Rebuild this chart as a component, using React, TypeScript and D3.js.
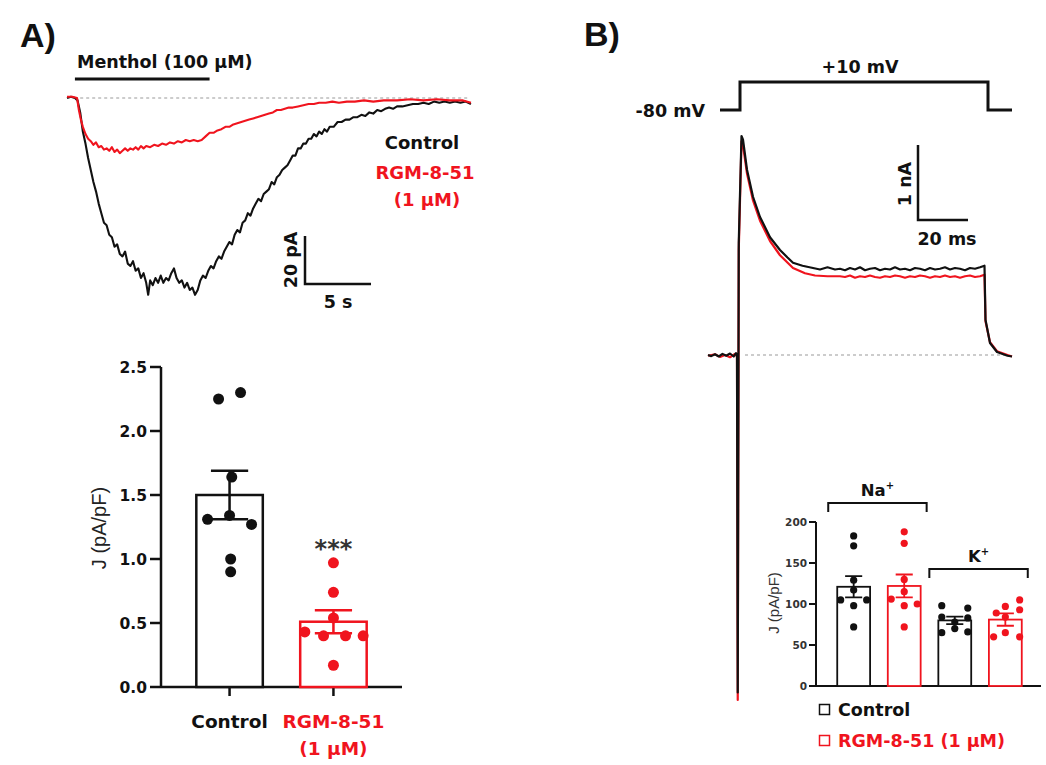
import React, { useEffect, useRef } from "react";
import * as d3 from "d3";

const RED = "#f0141e";
const BOLD = "'DejaVu Sans', sans-serif";
const PLAIN = "'Liberation Sans', Arial, sans-serif";

// A) menthol-evoked currents, [time s, current pA]
const ctrlTrace: [number, number][] = [
  [0, 0], [0.3, 0.5], [0.6, 0], [0.8, -1], [1.0, -6], [1.2, -14], [1.4, -19], [1.6, -25], [1.8, -30], [2.0, -35],
  [2.2, -39], [2.4, -44], [2.6, -48], [2.8, -52], [3.0, -53], [3.2, -57], [3.4, -58], [3.6, -62], [3.8, -61], [4.0, -65],
  [4.2, -66], [4.4, -64], [4.6, -69], [4.8, -70], [5.0, -68], [5.2, -72], [5.4, -71], [5.6, -75], [5.8, -73], [6.0, -77],
  [6.15, -82], [6.3, -76], [6.5, -78], [6.7, -75], [6.9, -77], [7.1, -74], [7.3, -77], [7.5, -75], [7.7, -76], [7.9, -73],
  [8.1, -71], [8.3, -75], [8.5, -77], [8.7, -76], [8.9, -79], [9.1, -77], [9.3, -80], [9.5, -79], [9.7, -82], [9.9, -80],
  [10.1, -76], [10.3, -74], [10.5, -75], [10.7, -72], [10.9, -70], [11.1, -71], [11.3, -68], [11.5, -66], [11.7, -67], [11.9, -64],
  [12.1, -62], [12.3, -60], [12.5, -61], [12.7, -57], [12.9, -55], [13.1, -56], [13.3, -52], [13.5, -51], [13.7, -48], [13.9, -49],
  [14.1, -46], [14.3, -44], [14.5, -42], [14.7, -43], [14.9, -40], [15.1, -39], [15.3, -38], [15.5, -35], [15.7, -36], [15.9, -33],
  [16.1, -32], [16.3, -30], [16.5, -29], [16.7, -28], [16.9, -26], [17.1, -24], [17.3, -24], [17.5, -21], [17.7, -21], [17.9, -19],
  [18.1, -19], [18.3, -17], [18.5, -17], [18.7, -15], [18.9, -16], [19.1, -14], [19.3, -15], [19.5, -13], [19.7, -14], [19.9, -12],
  [20.2, -12], [20.5, -10], [20.8, -10], [21.1, -9], [21.4, -9], [21.7, -8], [22.0, -8], [22.3, -7], [22.6, -7.5], [22.9, -6],
  [23.2, -6.5], [23.5, -5], [23.8, -5.5], [24.1, -4.5], [24.4, -4], [24.7, -4.5], [25.0, -3.5], [25.4, -3.5], [25.8, -3], [26.2, -2.5],
  [26.6, -2.5], [27.0, -2], [27.4, -2.5], [27.8, -1.5], [28.2, -2], [28.6, -1.5], [29.0, -2], [29.4, -1.5], [29.8, -2], [30.2, -1.5],
  [30.6, -2.5],
];
const rgmTrace: [number, number][] = [
  [0, 0.5], [0.4, 0.5], [0.76, 0], [0.9, -5], [1.05, -9], [1.2, -12], [1.4, -15], [1.6, -17], [1.8, -18], [2.0, -19.5],
  [2.2, -18.5], [2.4, -20.5], [2.6, -20], [2.8, -21.5], [3.0, -21], [3.2, -22], [3.4, -20.5], [3.6, -22.5], [3.8, -21.5], [4.0, -23],
  [4.2, -22], [4.4, -21], [4.6, -22], [4.8, -21], [5.0, -21.5], [5.2, -20.5], [5.4, -21.5], [5.6, -20], [5.8, -21], [6.0, -20],
  [6.3, -20.5], [6.6, -19.5], [6.9, -20], [7.2, -19], [7.5, -19.5], [7.8, -18.5], [8.1, -19], [8.4, -18], [8.7, -18.5], [9.0, -17.5],
  [9.3, -18], [9.6, -17.5], [9.9, -18], [10.2, -17.5], [10.5, -16], [10.8, -14.5], [11.1, -14.5], [11.4, -13.5], [11.7, -13], [12.0, -12],
  [12.3, -12], [12.6, -11], [12.9, -10.5], [13.2, -10], [13.5, -9.5], [13.8, -9], [14.1, -8.5], [14.4, -8], [14.7, -7.5], [15.0, -7],
  [15.3, -6.5], [15.6, -6], [15.9, -5], [16.2, -5], [16.5, -4.5], [16.8, -4], [17.1, -4], [17.5, -3.5], [17.9, -3], [18.3, -2.5],
  [18.7, -2.5], [19.1, -2], [19.6, -2], [20.1, -1.5], [20.6, -2], [21.2, -1.5], [21.8, -1.5], [22.5, -1], [23.2, -1.5], [24, -1],
  [25, -1], [26, -0.5], [27, -1], [28, -0.5], [29, -1], [30, -1], [30.6, -2],
];

// A) current density bars
const groupsA = ["Control", "RGM-8-51"];
const meanA = [1.5, 0.51];
const semA = [0.19, 0.09];
const pointsA = [
  [2.25, 2.3, 1.64, 1.31, 1.34, 1.27, 1.0, 0.9],
  [0.97, 0.74, 0.54, 0.43, 0.4, 0.4, 0.4, 0.17],
];
const jitterA = [
  [-1, 1, 0.2, -2, 0, 2, 0.1, 0.1],
  [0, 0, 0, -2.6, -0.9, 1.1, 2.7, 0],
];
const ticksA = [0, 0.5, 1, 1.5, 2, 2.5];

// B) voltage protocol [ms, mV] and whole-cell currents [ms, nA]
const protoTime = [-8, 0, 0, 99.2, 99.2, 108.8];
const protoVolt = [-80, -80, 10, 10, -80, -80];
const ctrlCurrent: [number, number][] = [
  [-12.8, 0], [-11.5, -0.015], [-10, 0.01], [-8.5, -0.02], [-7, 0.015], [-5.5, -0.01], [-4, 0.02], [-2.5, -0.02], [-1.6, 0.025], [-1.2, 0],
  [-0.9, -4.5], [-0.5, 1.5], [0.6, 2.92], [1.2, 2.87], [2.8, 2.47], [5.2, 2.11], [8, 1.84], [12, 1.57], [16, 1.4], [19, 1.3],
  [21.2, 1.23], [25, 1.19], [29.2, 1.16], [32, 1.14], [35, 1.17], [38, 1.14], [40, 1.15], [42, 1.13], [44, 1.16], [46, 1.14],
  [48, 1.17], [50, 1.13], [52, 1.15], [54, 1.16], [56, 1.13], [58, 1.15], [60, 1.14], [62, 1.17], [64, 1.14], [66, 1.15],
  [68, 1.13], [70, 1.16], [72, 1.15], [74, 1.13], [76, 1.16], [78, 1.14], [80, 1.15], [82, 1.17], [84, 1.14], [86, 1.16],
  [88, 1.15], [90, 1.13], [92, 1.16], [94, 1.15], [96, 1.17], [97.8, 1.19], [98.2, 0.47], [100, 0.16], [102.8, 0.04], [107, -0.01],
  [108.8, -0.02],
];
const rgmCurrent: [number, number][] = [
  [-12.8, -0.01], [-10, 0.01], [-8, -0.025], [-6, 0], [-4, -0.03], [-2, 0.015], [-1.2, -0.02], [-0.9, -4.6], [-0.5, 1.4], [0.6, 2.85],
  [1.2, 2.8], [2.8, 2.42], [5.2, 2.06], [8, 1.79], [12, 1.52], [16, 1.33], [21.2, 1.16], [26, 1.09], [30, 1.06], [35, 1.05],
  [40, 1.05], [42, 1.04], [44, 1.06], [46, 1.03], [48, 1.05], [50, 1.04], [52, 1.06], [54, 1.04], [56, 1.03], [58, 1.05],
  [60, 1.04], [62, 1.06], [64, 1.05], [66, 1.03], [68, 1.05], [70, 1.04], [72, 1.06], [74, 1.05], [76, 1.03], [78, 1.05],
  [80, 1.04], [82, 1.06], [84, 1.04], [86, 1.05], [88, 1.03], [90, 1.05], [92, 1.06], [94, 1.04], [96, 1.05], [97.8, 1.07],
  [98.2, 0.45], [100, 0.17], [102.8, 0.05], [107, 0], [108.8, -0.02],
];

// B) inset: Na+ and K+ current densities
const insetGroups = ["Na-Control", "Na-RGM", "K-Control", "K-RGM"];
const insetIsRgm = [false, true, false, true];
const insetMean = [121, 122, 80, 81];
const insetSem = [13, 14, 4.5, 7.5];
const insetPoints = [
  [183, 171, 129, 117, 105, 105, 98, 72],
  [188, 174, 130, 115, 106, 100, 98, 72],
  [98, 95, 84, 83, 78, 70, 65, 66],
  [105, 97, 93, 89, 84, 60, 65, 60],
];
const insetJitter = [
  [0, 0, 0, 0, -1, 1, 0, 0],
  [0, 0, 0, 0, -1, 1, 0, 0],
  [-1, 1, -1, 1, 0, 0, -1, 1],
  [1.1, 0, 1.1, -0.7, 0, -0.9, 0, 1.1],
];
const insetTicks = [0, 50, 100, 150, 200];

const Figure = () => {
  const svgRef = useRef<SVGSVGElement>(null);

  useEffect(() => {
    const svg = d3.select(svgRef.current);
    svg.selectAll("*").remove();

    const text = (x: number, y: number, s: string, size: number, opts: any = {}) =>
      svg
        .append("text")
        .attr("x", x)
        .attr("y", y)
        .attr("font-family", opts.family || BOLD)
        .attr("font-weight", opts.weight || "bold")
        .attr("font-size", size)
        .attr("fill", opts.fill || "#111")
        .attr("text-anchor", opts.anchor || "start")
        .text(s);

    // panel letters
    text(20, 47, "A)", 34, { family: PLAIN });
    text(584, 46, "B)", 34, { family: PLAIN });

    // ---------- A) traces
    const xA = d3.scaleLinear().domain([0, 30.8]).range([67, 473.6]);
    const yA = d3.scaleLinear().domain([0, -82]).range([98, 294.8]);
    const lineA = d3
      .line<[number, number]>()
      .x((d) => xA(d[0]))
      .y((d) => yA(d[1]));

    svg.append("line")
      .attr("x1", xA(1)).attr("x2", xA(30.5))
      .attr("y1", yA(0)).attr("y2", yA(0))
      .attr("stroke", "#999").attr("stroke-dasharray", "3,3");

    svg.append("line")
      .attr("x1", xA(0.6)).attr("x2", xA(10.8))
      .attr("y1", 79).attr("y2", 79)
      .attr("stroke", "#111").attr("stroke-width", 3);
    text(77, 68, "Menthol (100 µM)", 17.5);

    svg.append("path").datum(ctrlTrace).attr("d", lineA)
      .attr("fill", "none").attr("stroke", "#111").attr("stroke-width", 2.1).attr("stroke-linejoin", "round");
    svg.append("path").datum(rgmTrace).attr("d", lineA)
      .attr("fill", "none").attr("stroke", RED).attr("stroke-width", 2.1).attr("stroke-linejoin", "round");

    text(422, 149, "Control", 18, { anchor: "middle" });
    text(425, 179, "RGM-8-51", 18, { anchor: "middle", fill: RED });
    text(427, 206, "(1 µM)", 18, { anchor: "middle", fill: RED });

    // scale bar A: 20 pA / 5 s
    const sbx = 305, sby = 284;
    svg.append("path")
      .attr("d", `M${sbx},${sby - (yA(-20) - yA(0))}V${sby}H${sbx + xA(5) - xA(0)}`)
      .attr("fill", "none").attr("stroke", "#111").attr("stroke-width", 2.5);
    text(0, 0, "20 pA", 17.5, { anchor: "middle" })
      .attr("transform", `translate(297,260) rotate(-90)`);
    text(338, 308, "5 s", 17.5, { anchor: "middle" });

    // ---------- A) bar chart
    const xBar = d3.scaleBand().domain(groupsA).range([161, 402]).paddingInner(0.36).paddingOuter(0.34);
    const yBar = d3.scaleLinear().domain([0, 2.5]).range([687, 367]);
    const bw = xBar.bandwidth();
    const gA = svg.append("g");

    gA.append("line").attr("x1", 161).attr("x2", 161).attr("y1", yBar(2.5)).attr("y2", yBar(0))
      .attr("stroke", "#111").attr("stroke-width", 2.5);
    gA.append("line").attr("x1", 161).attr("x2", 402).attr("y1", yBar(0)).attr("y2", yBar(0))
      .attr("stroke", "#111").attr("stroke-width", 2.5);
    ticksA.forEach((t) => {
      gA.append("line").attr("x1", 150).attr("x2", 161).attr("y1", yBar(t)).attr("y2", yBar(t))
        .attr("stroke", "#111").attr("stroke-width", 2.5);
      gA.append("text").attr("x", 147).attr("y", yBar(t)).attr("dy", "0.36em")
        .attr("text-anchor", "end").attr("font-family", BOLD).attr("font-weight", "bold")
        .attr("font-size", 15.5).attr("fill", "#111").text(d3.format(".1f")(t));
    });

    groupsA.forEach((g, i) => {
      const col = i === 0 ? "#111" : RED;
      const x0 = xBar(g)!;
      const cx = x0 + bw / 2;
      gA.append("line").attr("x1", cx).attr("x2", cx).attr("y1", yBar(0)).attr("y2", yBar(0) + 9)
        .attr("stroke", "#111").attr("stroke-width", 2.5);
      gA.append("rect").attr("x", x0).attr("y", yBar(meanA[i])).attr("width", bw)
        .attr("height", yBar(0) - yBar(meanA[i]))
        .attr("fill", "white").attr("stroke", col).attr("stroke-width", 2.5);
      pointsA[i].forEach((v, j) => {
        gA.append("circle").attr("cx", cx + jitterA[i][j] * 11).attr("cy", yBar(v)).attr("r", 5.5).attr("fill", col);
      });
      const cap = bw * 0.28;
      const lo = yBar(meanA[i] - semA[i]), hi = yBar(meanA[i] + semA[i]);
      gA.append("path")
        .attr("d", `M${cx - cap},${hi}H${cx + cap}M${cx},${hi}V${lo}M${cx - cap},${lo}H${cx + cap}`)
        .attr("fill", "none").attr("stroke", col).attr("stroke-width", 2.5);
    });

    text(xBar("Control")! + bw / 2, 728, "Control", 18.5, { anchor: "middle" });
    text(xBar("RGM-8-51")! + bw / 2, 728, "RGM-8-51", 18.5, { anchor: "middle", fill: RED });
    text(xBar("RGM-8-51")! + bw / 2, 755, "(1 µM)", 18.5, { anchor: "middle", fill: RED });
    text(xBar("RGM-8-51")! + bw / 2, 557, "***", 24, { anchor: "middle", fill: "#333" });
    text(0, 0, "J (pA/pF)", 20, { family: PLAIN, weight: "normal", anchor: "middle", fill: "#222" })
      .attr("transform", `translate(106,528) rotate(-90)`);

    // ---------- B) protocol and currents
    const xB = d3.scaleLinear().domain([0, 100]).range([740, 990]);
    const yB = d3.scaleLinear().domain([0, 1]).range([355, 280]);
    const yV = d3.scaleLinear().domain([-80, 10]).range([110, 82]);

    svg.append("path")
      .attr("d", d3.line<number>().x((d) => xB(d)).y((_, i) => yV(protoVolt[i]))(protoTime))
      .attr("fill", "none").attr("stroke", "#111").attr("stroke-width", 3);
    text(705, 117, "-80 mV", 17.5, { anchor: "end" });
    text(860, 73, "+10 mV", 17.5, { anchor: "middle" });

    svg.append("line")
      .attr("x1", xB(2)).attr("x2", xB(106)).attr("y1", yB(0)).attr("y2", yB(0))
      .attr("stroke", "#999").attr("stroke-dasharray", "3,3");

    const lineB = d3.line<[number, number]>().x((d) => xB(d[0])).y((d) => yB(d[1]));
    svg.append("path").datum(rgmCurrent).attr("d", lineB)
      .attr("fill", "none").attr("stroke", RED).attr("stroke-width", 2.2).attr("stroke-linejoin", "round");
    svg.append("path").datum(ctrlCurrent).attr("d", lineB)
      .attr("fill", "none").attr("stroke", "#111").attr("stroke-width", 2.2).attr("stroke-linejoin", "round");

    // scale bar B: 1 nA / 20 ms
    const bx = 918, by = 220;
    svg.append("path")
      .attr("d", `M${bx},${by - (yB(0) - yB(1))}V${by}H${bx + xB(20) - xB(0)}`)
      .attr("fill", "none").attr("stroke", "#111").attr("stroke-width", 2.5);
    text(0, 0, "1 nA", 17.5, { anchor: "middle" }).attr("transform", `translate(911,184) rotate(-90)`);
    text(947, 245, "20 ms", 17.5, { anchor: "middle" });

    // ---------- B) inset bars
    const xIn = d3.scaleBand().domain(insetGroups).range([816, 1043]).paddingInner(0.35).paddingOuter(0.42);
    const yIn = d3.scaleLinear().domain([0, 200]).range([686, 522]);
    const bwIn = xIn.bandwidth();
    const gB = svg.append("g");

    gB.append("line").attr("x1", 816).attr("x2", 816).attr("y1", yIn(200)).attr("y2", yIn(0))
      .attr("stroke", "#111").attr("stroke-width", 2);
    gB.append("line").attr("x1", 816).attr("x2", 1041).attr("y1", yIn(0)).attr("y2", yIn(0))
      .attr("stroke", "#111").attr("stroke-width", 2);
    insetTicks.forEach((t) => {
      gB.append("line").attr("x1", 809).attr("x2", 816).attr("y1", yIn(t)).attr("y2", yIn(t))
        .attr("stroke", "#111").attr("stroke-width", 2);
      gB.append("text").attr("x", 807).attr("y", yIn(t)).attr("dy", "0.36em")
        .attr("text-anchor", "end").attr("font-family", BOLD).attr("font-weight", "bold")
        .attr("font-size", 10.5).attr("fill", "#333").text(t);
    });
    text(0, 0, "J (pA/pF)", 15, { family: PLAIN, weight: "normal", anchor: "middle", fill: "#333" })
      .attr("transform", `translate(779,603) rotate(-90)`);

    insetGroups.forEach((g, i) => {
      const col = insetIsRgm[i] ? RED : "#111";
      const x0 = xIn(g)!;
      const cx = x0 + bwIn / 2;
      gB.append("rect").attr("x", x0).attr("y", yIn(insetMean[i])).attr("width", bwIn)
        .attr("height", yIn(0) - yIn(insetMean[i]))
        .attr("fill", "white").attr("stroke", col).attr("stroke-width", 1.8);
      insetPoints[i].forEach((v, j) => {
        gB.append("circle").attr("cx", cx + insetJitter[i][j] * 13).attr("cy", yIn(v)).attr("r", 3.6).attr("fill", col);
      });
      const cap = bwIn * 0.26;
      const lo = yIn(insetMean[i] - insetSem[i]), hi = yIn(insetMean[i] + insetSem[i]);
      gB.append("path")
        .attr("d", `M${cx - cap},${hi}H${cx + cap}M${cx},${hi}V${lo}M${cx - cap},${lo}H${cx + cap}`)
        .attr("fill", "none").attr("stroke", col).attr("stroke-width", 1.8);
    });

    // ion brackets
    const bracket = (a: string, b: string, y: number, label: string) => {
      const x1 = xIn(a)! - 9, x2 = xIn(b)! + bwIn + 6;
      gB.append("path").attr("d", `M${x1},${y + 9}V${y}H${x2}V${y + 9}`)
        .attr("fill", "none").attr("stroke", "#111").attr("stroke-width", 2);
      const t = gB.append("text").attr("x", (x1 + x2) / 2).attr("y", y - 7).attr("text-anchor", "middle")
        .attr("font-family", BOLD).attr("font-weight", "bold").attr("font-size", 16.5).attr("fill", "#111");
      t.append("tspan").text(label);
      t.append("tspan").attr("font-size", 10).attr("dy", -7).text("+");
    };
    bracket("Na-Control", "Na-RGM", 503, "Na");
    bracket("K-Control", "K-RGM", 569, "K");

    // legend
    gB.append("rect").attr("x", 819.5).attr("y", 704.5).attr("width", 10).attr("height", 10)
      .attr("fill", "none").attr("stroke", "#111").attr("stroke-width", 1.5);
    text(838, 716, "Control", 17.5);
    gB.append("rect").attr("x", 819.5).attr("y", 735.5).attr("width", 10).attr("height", 10)
      .attr("fill", "none").attr("stroke", RED).attr("stroke-width", 1.5);
    text(838, 747, "RGM-8-51 (1 µM)", 17.5, { fill: RED });
  }, []);

  return (
    <svg
      ref={svgRef}
      width={1046}
      height={765}
      style={{ position: "absolute", left: 0, top: 0, background: "white" }}
    />
  );
};

export default function App() {
  return <Figure />;
}
